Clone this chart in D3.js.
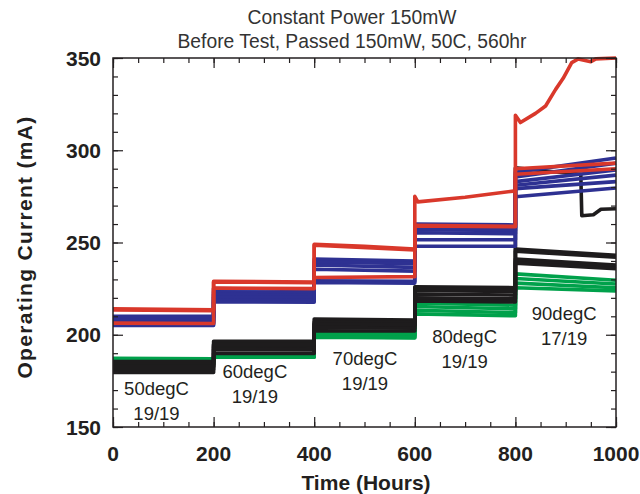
<!DOCTYPE html>
<html><head><meta charset="utf-8">
<script src="https://cdn.jsdelivr.net/npm/d3@7"></script>
<style>body{margin:0;background:#fff}svg{display:block}</style>
</head><body>
<svg id="c" width="640" height="494"></svg>
<script>
// ---------- data ----------
const titleLines = ["Constant Power 150mW", "Before Test, Passed 150mW, 50C, 560hr"];
const xTicks = [0, 200, 400, 600, 800, 1000];
const yTicks = [150, 200, 250, 300, 350];
const xLabel = "Time (Hours)";
const yLabel = "Operating Current (mA)";
const tempLabels = ["50degC", "60degC", "70degC", "80degC", "90degC"];
const passLabels = ["19/19", "19/19", "19/19", "19/19", "17/19"];

const greenSeries = [
  [[0,187.3],[200,187],[200,188],[400,188],[400,201],[600,200.5],[600,217.3],[800,216],[800,233],[1000,229.5]],
  [[0,186],[200,186],[200,188],[400,188],[400,200],[600,199.5],[600,215.3],[800,214],[800,230.5],[1000,227.5]],
  [[0,185],[200,185],[200,188],[400,188],[400,199],[600,198.5],[600,213.3],[800,212],[800,228],[1000,225.5]],
  [[0,184],[200,184],[200,188],[400,188],[400,198.7],[600,198.3],[600,211.3],[800,210.3],[800,225.5],[1000,223.8]]
];
const blackSeries = [
  [[0,185.5],[200,185.5],[200,196.5],[400,196.5],[400,208.5],[600,208],[600,226],[800,225.5],[800,246.5],[1000,243]],
  [[0,184],[200,184],[200,195],[400,195],[400,207],[600,206.5],[600,224],[800,223.5],[800,245.3],[1000,242]],
  [[0,182.5],[200,182.5],[200,193.5],[400,193.3],[400,205.5],[600,205],[600,222],[800,221.5],[800,241],[1000,237.8]],
  [[0,181],[200,181],[200,192],[400,191.8],[400,204],[600,203.5],[600,220],[800,219.5],[800,239.8],[1000,236.8]],
  [[0,179.5],[200,179.6],[200,190],[400,189.8],[400,202.2],[600,202],[600,218.3],[800,217.8],[800,238.8],[1000,235.8]],
  [[0,183],[200,183],[200,194.5],[400,194.5],[400,206],[600,205.5],[600,225],[800,224],[800,290.5],[850,289],[930,287],[932,264.5],[955,265],[970,268],[1000,268.3]]
];
const blueSeries = [
  [[0,210],[200,210],[200,225],[400,224.5],[400,241],[600,240],[600,260],[800,259.5],[800,288],[1000,295.8]],
  [[0,209.2],[200,209.2],[200,223.3],[400,222.8],[400,239.5],[600,238.5],[600,258.5],[800,258],[800,285.5],[1000,293]],
  [[0,207.8],[200,207.8],[200,221.8],[400,221.3],[400,237.8],[600,236.5],[600,257],[800,256.5],[800,283],[1000,289.3]],
  [[0,206.8],[200,206.8],[200,220.3],[400,220],[400,235.5],[600,234.5],[600,255.3],[800,254.8],[800,281],[1000,286.5]],
  [[0,205.8],[200,205.8],[200,218.8],[400,218.5],[400,229.2],[600,229],[600,251.5],[800,251.5],[800,279.2],[1000,283]],
  [[0,205],[200,205],[200,217.8],[400,217.6],[400,228.3],[600,228],[600,248],[800,248],[800,274.8],[1000,279.5]]
];
const redSeries = [
  [[0,214],[200,213.5],[200,229],[400,228.5],[400,249],[500,248],[600,246.5],[600,275],[606,272],[700,274.5],[800,278],[800,319],[810,315],[840,320],[860,324],[880,333],[895,339],[912,347.5],[925,349.5],[950,348],[960,349.5],[1000,350]],
  [[0,206.3],[200,206.1],[200,225.3],[400,225],[400,231],[600,231.5],[600,259.3],[800,258.8],[800,290],[1000,293]],
  [[0,213.4],[200,213],[200,228.6],[400,228.2],[400,248.5],[600,246],[600,259],[800,258.5],[800,287],[1000,290]]
];

// ---------- layout ----------
const svg = d3.select("#c");
const L = 113, R = 616, T = 58, B = 427;
const x = d3.scaleLinear().domain([0, 1000]).range([L, R]);
const y = d3.scaleLinear().domain([150, 350]).range([B, T]);
const ink = "#231f20";
const font = "'Liberation Sans', Arial, Helvetica, sans-serif";

// lines
const line = d3.line().x(d => x(d[0])).y(d => y(d[1]));
const groups = [
  [greenSeries, "#00a14b"],
  [blackSeries, "#1e1c1d"],
  [blueSeries, "#2e3192"],
  [redSeries, "#d9382b"]
];
groups.forEach(([set, col]) => {
  svg.append("g").selectAll("path").data(set).join("path")
    .attr("d", line).attr("fill", "none").attr("stroke", col)
    .attr("stroke-width", 3.6).attr("stroke-linejoin", "round");
});

// axes (ticks inside, mirrored)
const xMinor = d3.range(0, 1001, 50);
const yMinor = d3.range(150, 351, 10);
const ax = svg.append("g");
const addAxis = (axis, tr) => {
  const g = ax.append("g").attr("transform", tr).call(axis);
  g.select(".domain").remove();
  g.selectAll("line").attr("stroke", ink).attr("stroke-width", 1.2);
  return g;
};
addAxis(d3.axisBottom(x).tickValues(xMinor).tickSize(-5).tickFormat(""), `translate(0,${B})`);
addAxis(d3.axisBottom(x).tickValues(xTicks).tickSize(-10).tickFormat(""), `translate(0,${B})`);
addAxis(d3.axisTop(x).tickValues(xMinor).tickSize(-5).tickFormat(""), `translate(0,${T})`);
addAxis(d3.axisTop(x).tickValues(xTicks).tickSize(-10).tickFormat(""), `translate(0,${T})`);
addAxis(d3.axisLeft(y).tickValues(yMinor).tickSize(-5).tickFormat(""), `translate(${L},0)`);
addAxis(d3.axisLeft(y).tickValues(yTicks).tickSize(-10).tickFormat(""), `translate(${L},0)`);
addAxis(d3.axisRight(y).tickValues(yMinor).tickSize(-5).tickFormat(""), `translate(${R},0)`);
addAxis(d3.axisRight(y).tickValues(yTicks).tickSize(-10).tickFormat(""), `translate(${R},0)`);
ax.append("rect").attr("x", L).attr("y", T).attr("width", R - L).attr("height", B - T)
  .attr("fill", "none").attr("stroke", ink).attr("stroke-width", 1.5);

// tick labels
svg.append("g").selectAll("text").data(xTicks).join("text")
  .attr("x", d => x(d)).attr("y", 461).attr("text-anchor", "middle")
  .attr("font-family", font).attr("font-weight", "bold").attr("font-size", 21).attr("fill", ink)
  .text(d => d);
svg.append("g").selectAll("text").data(yTicks).join("text")
  .attr("x", 101).attr("y", d => y(d) + 7.5).attr("text-anchor", "end")
  .attr("font-family", font).attr("font-weight", "bold").attr("font-size", 21).attr("fill", ink)
  .text(d => d);

// axis titles
svg.append("text").attr("x", 366).attr("y", 490).attr("text-anchor", "middle")
  .attr("font-family", font).attr("font-weight", "bold").attr("font-size", 21).attr("fill", ink)
  .text(xLabel);
svg.append("text").attr("transform", "translate(32,247) rotate(-90)").attr("text-anchor", "middle")
  .attr("font-family", font).attr("font-weight", "bold").attr("font-size", 21).attr("fill", ink)
  .attr("letter-spacing", 1.3).text(yLabel);

// title
svg.append("g").selectAll("text").data(titleLines).join("text")
  .attr("x", 352).attr("y", (d, i) => 24 + i * 24).attr("text-anchor", "middle")
  .attr("font-family", font).attr("font-size", 19.3).attr("fill", "#333")
  .text(d => d);

// annotations (placed in data coordinates)
const annX = [86.5, 282, 501, 699, 897];
const annY = [167.3, 176.6, 183.6, 195.5, 208];
const ann = svg.append("g").attr("font-family", font).attr("font-size", 18.5).attr("fill", ink)
  .attr("text-anchor", "middle");
tempLabels.forEach((t, i) => {
  ann.append("text").attr("x", x(annX[i])).attr("y", y(annY[i])).text(t);
  ann.append("text").attr("x", x(annX[i])).attr("y", y(annY[i]) + 25).text(passLabels[i]);
});
</script>
</body></html>
